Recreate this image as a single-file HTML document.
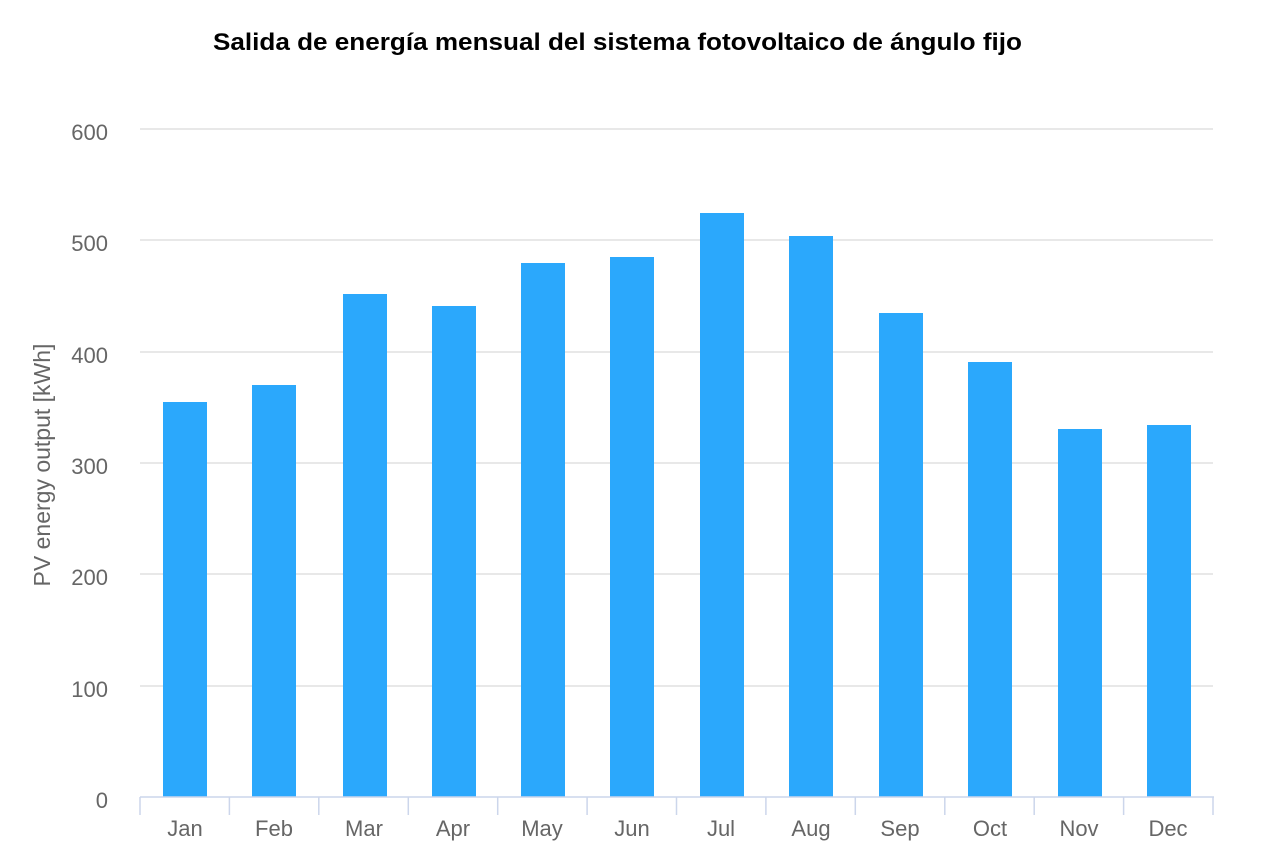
<!DOCTYPE html><html><head><meta charset="utf-8"><style>body{margin:0;background:#fff}</style></head><body>
<svg width="1264" height="860" xmlns="http://www.w3.org/2000/svg" font-family="Liberation Sans, Arial, sans-serif">
<text x="213" y="50" font-size="24" font-weight="bold" fill="#000" textLength="809" lengthAdjust="spacingAndGlyphs">Salida de energía mensual del sistema fotovoltaico de ángulo fijo</text>
<g stroke="#e0e0e0" stroke-width="1.5">
<line x1="140" x2="1213" y1="129" y2="129"/><line x1="140" x2="1213" y1="240" y2="240"/><line x1="140" x2="1213" y1="352" y2="352"/><line x1="140" x2="1213" y1="463" y2="463"/><line x1="140" x2="1213" y1="574" y2="574"/><line x1="140" x2="1213" y1="686" y2="686"/>
</g>
<g fill="#666" font-size="22" text-anchor="end">
<text x="108" y="140">600</text><text x="108" y="251">500</text><text x="108" y="363">400</text><text x="108" y="474">300</text><text x="108" y="585">200</text><text x="108" y="697">100</text><text x="108" y="808">0</text>
</g>
<text transform="translate(50,465) rotate(-90)" text-anchor="middle" font-size="23" fill="#666">PV energy output [kWh]</text>
<g fill="#2ba8fc">
<rect x="163" y="402" width="44" height="395"/>
<rect x="252" y="385" width="44" height="412"/>
<rect x="343" y="294" width="44" height="503"/>
<rect x="432" y="306" width="44" height="491"/>
<rect x="521" y="263" width="44" height="534"/>
<rect x="610" y="257" width="44" height="540"/>
<rect x="700" y="213" width="44" height="584"/>
<rect x="789" y="236" width="44" height="561"/>
<rect x="879" y="313" width="44" height="484"/>
<rect x="968" y="362" width="44" height="435"/>
<rect x="1058" y="429" width="44" height="368"/>
<rect x="1147" y="425" width="44" height="372"/>
</g>
<g stroke="#ccd6eb" stroke-width="1.5">
<line x1="140" x2="1214" y1="797" y2="797"/>
<line x1="140" x2="140" y1="797" y2="815"/><line x1="229.4" x2="229.4" y1="797" y2="815"/><line x1="318.8" x2="318.8" y1="797" y2="815"/><line x1="408.3" x2="408.3" y1="797" y2="815"/><line x1="497.7" x2="497.7" y1="797" y2="815"/><line x1="587.1" x2="587.1" y1="797" y2="815"/><line x1="676.5" x2="676.5" y1="797" y2="815"/><line x1="765.9" x2="765.9" y1="797" y2="815"/><line x1="855.3" x2="855.3" y1="797" y2="815"/><line x1="944.8" x2="944.8" y1="797" y2="815"/><line x1="1034.2" x2="1034.2" y1="797" y2="815"/><line x1="1123.6" x2="1123.6" y1="797" y2="815"/><line x1="1213" x2="1213" y1="797" y2="815"/>
</g>
<g fill="#666" font-size="22" text-anchor="middle">
<text x="185" y="836">Jan</text><text x="274" y="836">Feb</text><text x="364" y="836">Mar</text><text x="453" y="836">Apr</text><text x="542" y="836">May</text><text x="632" y="836">Jun</text><text x="721" y="836">Jul</text><text x="811" y="836">Aug</text><text x="900" y="836">Sep</text><text x="990" y="836">Oct</text><text x="1079" y="836">Nov</text><text x="1168" y="836">Dec</text>
</g>
</svg>
</body></html>
